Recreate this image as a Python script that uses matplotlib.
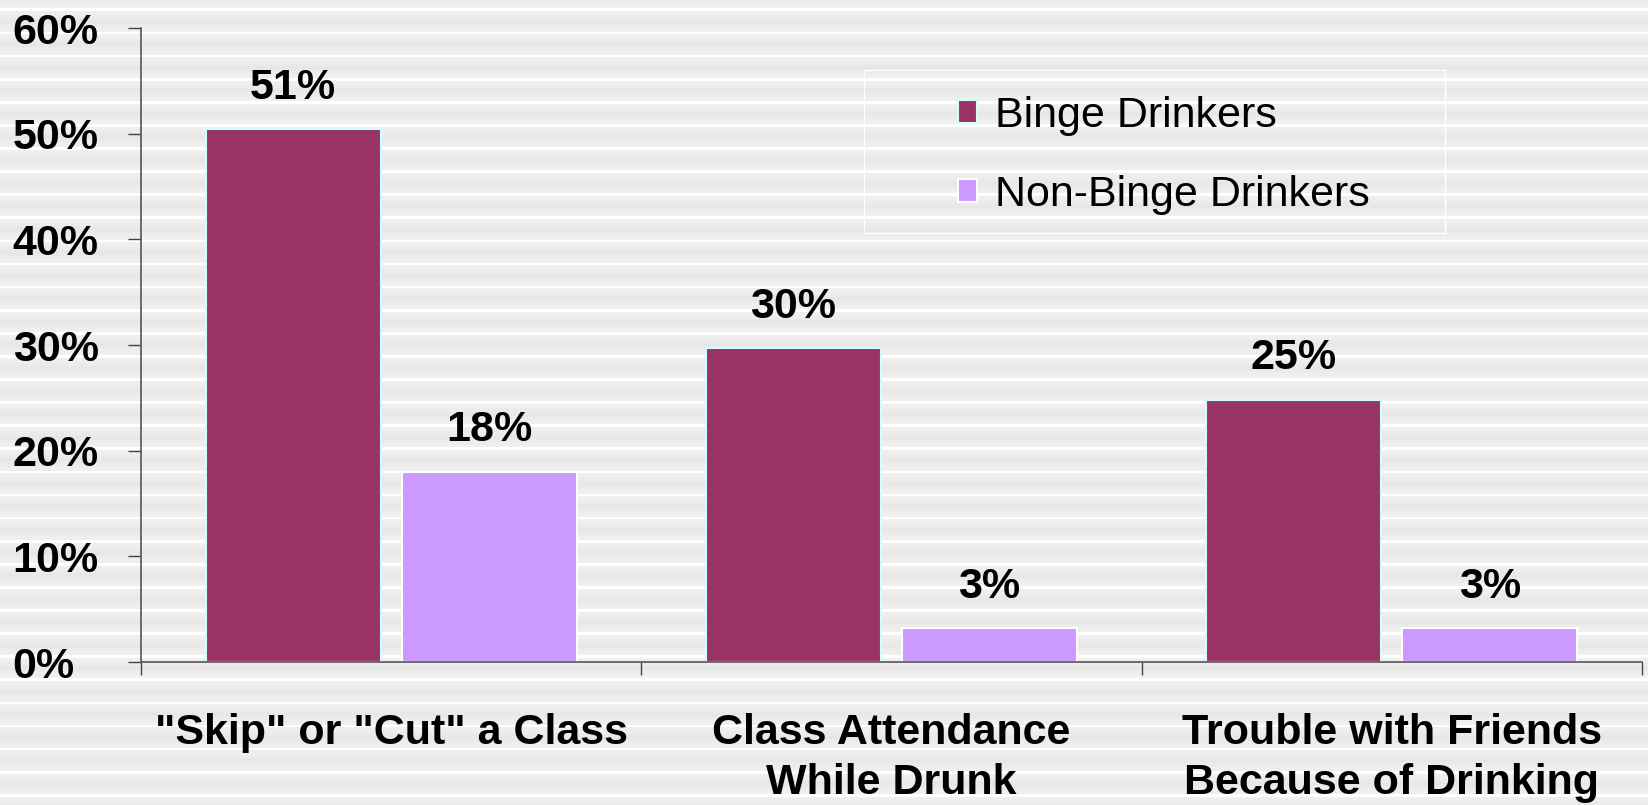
import numpy as np
import matplotlib
matplotlib.use("Agg")
import matplotlib.pyplot as plt
from matplotlib.patches import Rectangle

plt.rcParams['font.family'] = ['Liberation Sans', 'DejaVu Sans']

categories = ['"Skip" or "Cut" a Class', 'Class Attendance\nWhile Drunk',
              'Trouble with Friends\nBecause of Drinking']
binge = [50.4, 29.7, 24.8]
non_binge = [18.0, 3.2, 3.2]
binge_labels = ['51%', '30%', '25%']
non_binge_labels = ['18%', '3%', '3%']
series_names = ['Binge Drinkers', 'Non-Binge Drinkers']
yticks = [0, 10, 20, 30, 40, 50, 60]

W, H = 1648, 805
FS = 31
fig = plt.figure(figsize=(W/100, H/100), dpi=100)

# striped slide background
rows = np.arange(H)
t = ((rows - 8) % 23.1) / 23.1
shade = np.where(t < 0.12, 1.0, 0.905 + 0.035*np.abs(np.cos(np.pi*(t-0.12)/0.88)))
bg = np.repeat(shade[:, None], W, axis=1)
bg = np.dstack([bg, bg, bg])
fig.figimage(bg, 0, 0, origin='upper', zorder=-1)

ax = fig.add_axes([141/W, 1-662/H, (1642-141)/W, (662-28)/H])
ax.set_facecolor('none')

x = np.arange(len(categories))
w = 0.35
off = 0.196
b1 = ax.bar(x-off, binge, w, color='#993366', edgecolor='#ccffff', linewidth=1.5,
            label=series_names[0])
b2 = ax.bar(x+off, non_binge, w, color='#cc99ff', edgecolor='white', linewidth=1.5,
            label=series_names[1])

for bars, labs in [(b1, binge_labels), (b2, non_binge_labels)]:
    for r, s in zip(bars, labs):
        ax.annotate(s, (r.get_x()+r.get_width()/2, r.get_height()),
                    xytext=(0, 22), textcoords='offset points',
                    ha='center', va='baseline', fontsize=FS, fontweight='bold')

ax.set_xlim(-0.5, 2.5)
ax.set_ylim(0, 60)
ax.set_yticks(yticks)
ax.set_yticklabels([f'{v}%' for v in yticks], fontsize=FS, fontweight='bold', ha='left')
ax.tick_params(axis='y', length=9.4, width=1, color='#444444', pad=83)

ax.set_xticks(x)
ax.set_xticklabels(categories, fontsize=FS, fontweight='bold', linespacing=1.32)
ax.set_xticks([-0.5, 0.5, 1.5, 2.5], minor=True)
ax.tick_params(axis='x', which='major', length=0, pad=37)
ax.tick_params(axis='x', which='minor', length=9.4, width=1, color='#444444', direction='out')

for s in ['top', 'right']:
    ax.spines[s].set_visible(False)
for s in ['left', 'bottom']:
    ax.spines[s].set_color('#555555')
    ax.spines[s].set_linewidth(1.2)

# legend box outline
fig.patches.append(Rectangle((864/W, 1-233/H), 581/W, 163/H, transform=fig.transFigure,
                             fill=False, edgecolor='white', linewidth=1))
fig.legend(loc='upper left', bbox_to_anchor=(958/W, 1-96/H), frameon=False,
           fontsize=FS, borderpad=0, borderaxespad=0, handlelength=0.45,
           handleheight=0.45, handletextpad=0.42, labelspacing=0.9)

fig.savefig('out.png', dpi=100)
plt.close(fig)
